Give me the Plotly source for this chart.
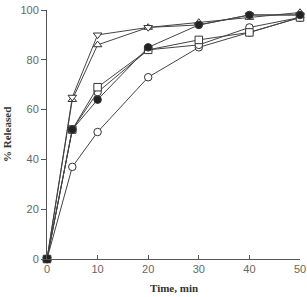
import plotly.graph_objects as go

time_min = [0, 5, 10, 20, 30, 40, 50]

s_tri_down = [0, 65, 90, 93, 94, 98, 98]
s_tri_up = [0, 64, 86, 93, 95, 97, 99]
s_square = [0, 52, 69, 84, 88, 91, 97]
s_circle_mid = [0, 52, 67, 84, 86, 93, 97]
s_filled = [0, 52, 64, 85, 94, 98, 98]
s_circle_low = [0, 37, 51, 73, 85, 91, 97]

x_ticks = [0, 10, 20, 30, 40, 50]
y_ticks = [0, 20, 40, 60, 80, 100]

series = [
    (s_circle_low, "circle", "white"),
    (s_circle_mid, "circle", "white"),
    (s_square, "square", "white"),
    (s_tri_up, "triangle-up", "white"),
    (s_tri_down, "triangle-down", "white"),
    (s_filled, "circle", "#222"),
]

fig = go.Figure()
for ys, sym, fill in series:
    fig.add_trace(go.Scatter(
        x=time_min, y=ys, mode="lines+markers",
        line=dict(color="#444", width=1),
        marker=dict(symbol=sym, size=7.5,
                    color=fill, line=dict(color="#333", width=1)),
        cliponaxis=False, showlegend=False,
    ))
# filled origin marker
fig.add_trace(go.Scatter(x=[time_min[0]], y=[0], mode="markers",
                         marker=dict(symbol="square", size=7, color="#222"),
                         cliponaxis=False, showlegend=False))

title_font = dict(family="Liberation Serif", size=11, color="#333")
fig.update_layout(
    width=307, height=297,
    margin=dict(l=47, r=7, t=10, b=38, autoexpand=False),
    plot_bgcolor="white", paper_bgcolor="white",
    font=dict(family="Liberation Sans", size=11, color="#666"),
    annotations=[
        dict(text="<b>Time, min</b>", x=0.5, xref="paper", y=-0.118, yref="paper",
             xanchor="center", yanchor="middle", showarrow=False, font=title_font),
        dict(text="<b>% Released</b>", x=-0.16, xref="paper", y=0.5, yref="paper",
             xanchor="center", yanchor="middle", showarrow=False, textangle=-90, font=title_font),
    ],
)
fig.update_xaxes(range=[0, 50], tickvals=x_ticks, ticks="inside", ticklen=4,
                 showline=True, linecolor="#555", linewidth=1, tickcolor="#555",
                 showgrid=False, zeroline=False, automargin=False)
fig.update_yaxes(range=[0, 100], tickvals=y_ticks, ticks="outside", ticklen=5,
                 showline=True, linecolor="#555", linewidth=1, tickcolor="#555",
                 showgrid=False, zeroline=False, automargin=False)
fig.write_html("out.html")
